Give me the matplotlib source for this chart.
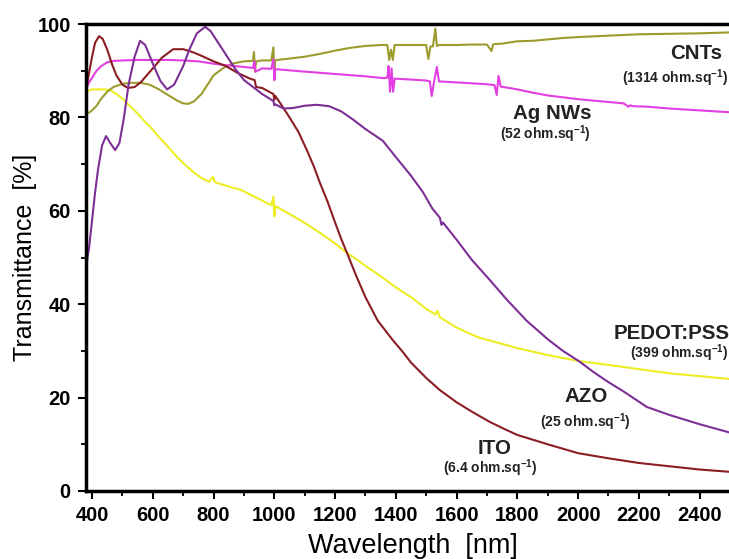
import matplotlib
matplotlib.use("Agg")
import matplotlib.pyplot as plt
from matplotlib.ticker import MultipleLocator

plt.rcParams['font.family'] = ['Liberation Sans', 'DejaVu Sans']
plt.rcParams['mathtext.fontset'] = 'custom'
plt.rcParams['mathtext.rm'] = 'Liberation Sans:bold'
plt.rcParams['mathtext.bf'] = 'Liberation Sans:bold'
plt.rcParams['mathtext.it'] = 'Liberation Sans:bold'

# ---------------- data ----------------
cnt_wl = [380, 390, 400, 415, 430, 450, 470, 500, 530, 560, 590, 620, 650, 680, 700, 716, 735, 760, 780, 800,
          830, 860, 900, 930, 933, 936, 940, 960, 990, 997, 1000, 1003, 1010, 1050, 1100, 1150, 1200, 1250, 1300, 1350,
          1372, 1378, 1384, 1390, 1396, 1402, 1450, 1500, 1507, 1514, 1522, 1530, 1535, 1542, 1600, 1650, 1700, 1715,
          1720, 1725, 1750, 1800, 1850, 1900, 1950, 2000, 2100, 2200, 2300, 2400, 2500]
cnt_T = [81, 81, 81.5, 82.5, 84, 85.5, 86.5, 87.2, 87.4, 87.4, 87, 86, 84.8, 83.6, 83, 82.9, 83.4, 85, 87, 89,
         90.5, 91.5, 92, 92.1, 94, 89.8, 92, 92.2, 92.2, 95, 88, 92.2, 92.3, 92.6, 93, 93.6, 94.3, 94.9, 95.3, 95.5,
         95.5, 92.3, 94.5, 92.3, 95.5, 95.5, 95.5, 95.5, 92.5, 95.2, 95.2, 99, 95.3, 95.5, 95.5, 95.6, 95.6, 94.2,
         95.6, 95.7, 95.8, 96.3, 96.4, 96.7, 97, 97.2, 97.5, 97.8, 97.9, 98, 98.2]

ag_wl = [380, 390, 400, 415, 430, 450, 470, 500, 550, 600, 650, 700, 750, 800, 850, 900, 930, 934, 938, 960,
         990, 997, 1000, 1003, 1010, 1100, 1200, 1300, 1360, 1372, 1376, 1381, 1386, 1391, 1396, 1450, 1500, 1512,
         1518, 1526, 1535, 1542, 1600, 1650, 1700, 1725, 1732, 1738, 1745, 1800, 1850, 1900, 1950, 2000, 2050, 2100,
         2150, 2165, 2172, 2180, 2226, 2300, 2400, 2500]
ag_T = [86, 87.5, 88.5, 90, 91, 91.8, 92.1, 92.2, 92.3, 92.3, 92.3, 92.2, 92, 91.5, 91.1, 90.8, 90.6, 92, 89.8, 90.5,
        90.4, 92.5, 88, 90.3, 90.3, 89.8, 89.3, 88.8, 88.4, 88.5, 91, 85.5, 90.5, 85.5, 88.3, 88.1, 87.9, 87.7,
        84.6, 87.7, 90.8, 87.7, 87.5, 87.3, 87.1, 86.9, 84.8, 88.9, 86.6, 86, 85.3, 84.7, 84.3, 83.9, 83.6, 83.3,
        83.0, 82.3, 82.6, 82.4, 82.3, 81.9, 81.5, 81.1]

ito_wl = [380, 390, 400, 410, 423, 435, 450, 465, 480, 500, 518, 540, 560, 580, 600, 630, 667, 700, 730, 760,
          800, 840, 880, 920, 935, 940, 960, 997, 1000, 1003, 1020, 1050, 1080, 1107, 1130, 1150, 1175, 1200, 1220,
          1239, 1270, 1300, 1340, 1390, 1420, 1450, 1500, 1545, 1600, 1650, 1709, 1750, 1800, 1900, 2000, 2100, 2200,
          2300, 2400, 2500]
ito_T = [86, 89.5, 93, 96, 97.4, 96.8, 94.5, 91.5, 89, 87, 86.3, 86.5, 87.5, 89, 90.5, 92.8, 94.6, 94.6, 94, 93.2,
         92, 91, 89.5, 88.3, 88, 86.5, 86.3, 85, 83.8, 84.6, 83, 80, 76.8, 73, 69.5, 66, 62, 57.5, 54,
         51, 46, 41.5, 36.5, 32.3, 30, 27.5, 24.2, 21.6, 19, 17, 14.8, 13.5, 12, 10, 8.1, 7, 6,
         5.3, 4.6, 4.1]

azo_wl = [380, 385, 390, 400, 410, 420, 433, 446, 460, 476, 490, 505, 520, 540, 558, 575, 600, 625, 647, 670,
          700, 720, 745, 772, 790, 810, 840, 870, 900, 930, 960, 997, 1000, 1003, 1030, 1060, 1100, 1140, 1180, 1220,
          1260, 1300, 1357, 1400, 1450, 1489, 1520, 1545, 1550, 1555, 1600, 1650, 1709, 1765, 1830, 1900, 1950, 2005,
          2050, 2100, 2150, 2226, 2300, 2400, 2500]
azo_T = [47, 50, 52, 58, 64, 69, 74, 76, 74.5, 73, 74.5, 80, 87, 93, 96.4, 95.5, 91.5, 87.8, 86, 87,
         91, 94.5, 98, 99.4, 98.5, 96.5, 93.5, 90.5, 88, 86.5, 85, 83.5, 82.6, 82.8, 81.9, 82, 82.5, 82.7, 82.4, 81.3,
         79.5, 77.5, 75, 71.5, 67.5, 64, 60.5, 58.5, 57, 57.5, 53.8, 49.5, 45.2, 41, 36.5, 32.5, 30, 27.7,
         25.5, 23.3, 21.3, 18, 16.3, 14.3, 12.5]

pedot_wl = [380, 400, 430, 459, 480, 500, 525, 550, 575, 591, 620, 650, 680, 700, 730, 760, 785, 798, 803, 810,
            850, 888, 920, 950, 990, 997, 1000, 1004, 1010, 1050, 1100, 1150, 1200, 1239, 1280, 1300, 1350, 1400,
            1450, 1480, 1500, 1530, 1537, 1545, 1600, 1650, 1676, 1750, 1800, 1900, 2005, 2100, 2200, 2300, 2400, 2495]
pedot_T = [85.5, 86, 86, 85.9, 85, 84, 82.4, 80.8, 79, 78, 75.8, 73.7, 71.5, 70.2, 68.5, 67, 66.2, 67.3, 66.2, 66,
           65.2, 64.5, 63.5, 62.5, 61.2, 63, 58.8, 61, 60.8, 59.3, 57.4, 55.3, 53, 51, 49.2, 48.2, 46, 43.6,
           41.5, 40, 39, 37.8, 38.6, 37.2, 35, 33.5, 32.8, 31.5, 30.6, 29.1, 27.8, 27, 26.1, 25.2, 24.6, 24]

x_ticks = [400, 600, 800, 1000, 1200, 1400, 1600, 1800, 2000, 2200, 2400]
y_ticks = [0, 20, 40, 60, 80, 100]

# ---------------- figure ----------------
fig = plt.figure(figsize=(7.29, 5.59), dpi=100)
ax = fig.add_axes([86 / 729, 68 / 559, 644 / 729, 467 / 559])

lw = 1.5
ax.plot(pedot_wl, pedot_T, color='#eded26', lw=lw)
ax.plot(cnt_wl, cnt_T, color='#9c9c2e', lw=lw)
ax.plot(ag_wl, ag_T, color='#e23ee2', lw=lw)
ax.plot(ito_wl, ito_T, color='#8a1e24', lw=lw)
ax.plot(azo_wl, azo_T, color='#7d2f96', lw=lw)

ax.set_xlim(380, 2500)
ax.set_ylim(0, 100)
ax.set_xticks(x_ticks)
ax.set_yticks(y_ticks)
ax.xaxis.set_minor_locator(MultipleLocator(100))
ax.yaxis.set_minor_locator(MultipleLocator(10))

for s in ax.spines.values():
    s.set_linewidth(2.5)
ax.spines['right'].set_visible(False)

ax.tick_params(which='major', direction='out', length=6, width=1.5, labelsize=14.5, pad=5)
ax.tick_params(which='minor', direction='out', length=3.5, width=1.3)
ax.tick_params(which='both', right=False, top=False)
for lab in ax.get_xticklabels() + ax.get_yticklabels():
    lab.set_fontweight('bold')

ax.set_xlabel('Wavelength  [nm]', fontsize=19.5)
ax.set_ylabel('Transmittance  [%]', fontsize=18)
ax.xaxis.set_label_coords(0.508, -0.09)
ax.yaxis.set_label_coords(-0.076, 0.5)

# labels
big = dict(fontsize=14.8, fontweight='bold', color='#222222')
small = dict(fontsize=10, fontweight='bold', color='#222222')
ax.text(2390, 93.6, 'CNTs', ha='center', va='center', **big)
ax.text(2320, 88.4, r'(1314 ohm.sq$^{-1}$)', ha='center', va='center', **small)
ax.text(1916, 80.8, 'Ag NWs', ha='center', va='center', **big)
ax.text(1893, 76.4, r'(52 ohm.sq$^{-1}$)', ha='center', va='center', **small)
ax.text(2118, 33.8, 'PEDOT:PSS', ha='left', va='center', **big)
ax.text(2170, 29.5, r'(399 ohm.sq$^{-1}$)', ha='left', va='center', **small)
ax.text(2025, 20.2, 'AZO', ha='center', va='center', **big)
ax.text(2025, 14.8, r'(25 ohm.sq$^{-1}$)', ha='center', va='center', **small)
ax.text(1726, 9.2, 'ITO', ha='center', va='center', **big)
ax.text(1710, 4.8, r'(6.4 ohm.sq$^{-1}$)', ha='center', va='center', **small)

fig.savefig('out.png', dpi=100)
